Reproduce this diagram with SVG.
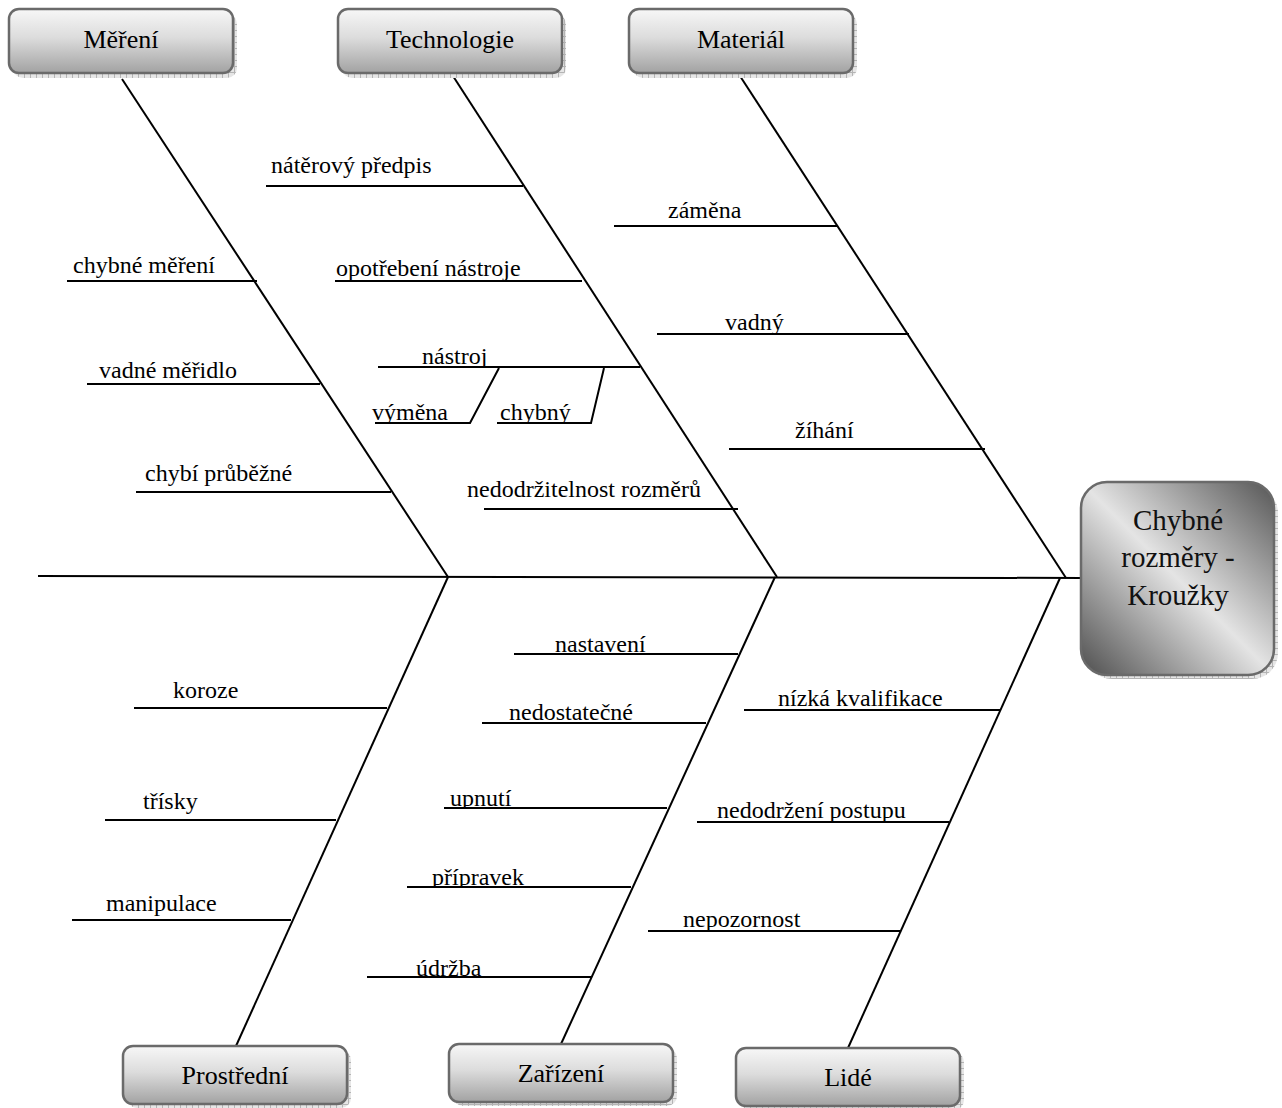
<svg xmlns="http://www.w3.org/2000/svg" width="1282" height="1108" viewBox="0 0 1282 1108">
  <style>
    .bone { stroke: #000; stroke-width: 2; fill: none; stroke-linecap: butt; }
    .lbl { font-family: "Liberation Serif", "Times New Roman", serif; font-size: 24px; fill: #000; }
    .cat { font-family: "Liberation Serif", "Times New Roman", serif; font-size: 26px; fill: #000; text-anchor: middle; }
    .head { font-family: "Liberation Serif", "Times New Roman", serif; font-size: 29px; fill: #111; text-anchor: middle; }
    .box { fill: url(#boxGrad); stroke: #6a6a6a; stroke-width: 2.5; }
    .shadow { fill: url(#hatch); }
  </style>
  <defs>
    <linearGradient id="boxGrad" x1="0" y1="0" x2="0" y2="1">
      <stop offset="0" stop-color="#f7f7f7"/>
      <stop offset="0.45" stop-color="#dcdcdc"/>
      <stop offset="1" stop-color="#a2a2a2"/>
    </linearGradient>
    <linearGradient id="headGrad" x1="0" y1="1" x2="1" y2="0">
      <stop offset="0" stop-color="#4e4e4e"/>
      <stop offset="0.5" stop-color="#e4e4e4"/>
      <stop offset="1" stop-color="#555555"/>
    </linearGradient>
    <pattern id="hatch" width="6" height="6" patternUnits="userSpaceOnUse">
      <rect width="6" height="6" fill="#e6e6e6"/>
      <path d="M0 0.5H6M0.5 0V6" stroke="#b4b4b4" stroke-width="1"/>
    </pattern>
    <!-- label clips: text is cut off where it meets its branch line -->
    <clipPath id="c281" clipPathUnits="userSpaceOnUse"><rect x="0" y="0" width="1282" height="280"/></clipPath>
    <clipPath id="c367" clipPathUnits="userSpaceOnUse"><rect x="0" y="0" width="1282" height="366"/></clipPath>
    <clipPath id="c423" clipPathUnits="userSpaceOnUse"><rect x="0" y="0" width="1282" height="422"/></clipPath>
    <clipPath id="c334" clipPathUnits="userSpaceOnUse"><rect x="0" y="0" width="1282" height="333"/></clipPath>
    <clipPath id="c654" clipPathUnits="userSpaceOnUse"><rect x="0" y="0" width="1282" height="653"/></clipPath>
    <clipPath id="c808" clipPathUnits="userSpaceOnUse"><rect x="0" y="0" width="1282" height="807"/></clipPath>
    <clipPath id="c887" clipPathUnits="userSpaceOnUse"><rect x="0" y="0" width="1282" height="886"/></clipPath>
    <clipPath id="c977" clipPathUnits="userSpaceOnUse"><rect x="0" y="0" width="1282" height="976"/></clipPath>
    <clipPath id="c710" clipPathUnits="userSpaceOnUse"><rect x="0" y="0" width="1282" height="709"/></clipPath>
    <clipPath id="c822" clipPathUnits="userSpaceOnUse"><rect x="0" y="0" width="1282" height="821"/></clipPath>
    <clipPath id="c931" clipPathUnits="userSpaceOnUse"><rect x="0" y="0" width="1282" height="930"/></clipPath>
  </defs>

  <rect width="1282" height="1108" fill="#fff"/>

  <!-- spine, main bones and cause branches -->
  <g id="connectors" class="bone">
    <line x1="38" y1="576" x2="1082" y2="578"/>
    <!-- upper bones -->
    <line x1="122" y1="79" x2="448" y2="577"/>
    <line x1="453" y1="76" x2="777" y2="577"/>
    <line x1="740" y1="76" x2="1066" y2="578"/>
    <!-- lower bones -->
    <line x1="448" y1="577" x2="236" y2="1046"/>
    <line x1="775" y1="577" x2="561" y2="1044"/>
    <line x1="1060" y1="578" x2="848" y2="1048"/>

    <!-- Měření -->
    <line x1="67" y1="281" x2="257" y2="281"/>
    <line x1="87" y1="384" x2="320" y2="384"/>
    <line x1="136" y1="492" x2="391" y2="492"/>
    <!-- Technologie -->
    <line x1="266" y1="186" x2="523" y2="186"/>
    <line x1="335" y1="281" x2="582" y2="281"/>
    <line x1="378" y1="367" x2="640" y2="367"/>
    <polyline points="375,423 470,423 499,368"/>
    <polyline points="497,423 591,423 604,368"/>
    <line x1="484" y1="509" x2="738" y2="509"/>
    <!-- Materiál -->
    <line x1="614" y1="226" x2="838" y2="226"/>
    <line x1="657" y1="334" x2="909" y2="334"/>
    <line x1="729" y1="449" x2="985" y2="449"/>
    <!-- Prostřední -->
    <line x1="134" y1="708" x2="387" y2="708"/>
    <line x1="105" y1="820" x2="336" y2="820"/>
    <line x1="72" y1="920" x2="291" y2="920"/>
    <!-- Zařízení -->
    <line x1="514" y1="654" x2="738" y2="654"/>
    <line x1="482" y1="723" x2="706" y2="723"/>
    <line x1="444" y1="808" x2="667" y2="808"/>
    <line x1="407" y1="887" x2="631" y2="887"/>
    <line x1="367" y1="977" x2="591" y2="977"/>
    <!-- Lidé -->
    <line x1="744" y1="710" x2="1000" y2="710"/>
    <line x1="697" y1="822" x2="949" y2="822"/>
    <line x1="648" y1="931" x2="900" y2="931"/>
  </g>

  <!-- cause labels -->
  <g id="causes" class="lbl">
    <text x="73" y="273">chybné měření</text>
    <text x="99" y="378">vadné měřidlo</text>
    <text x="145" y="481">chybí průběžné</text>

    <text x="271" y="173">nátěrový předpis</text>
    <text x="336" y="276" clip-path="url(#c281)">opotřebení nástroje</text>
    <text x="422" y="364" clip-path="url(#c367)">nástroj</text>
    <text x="372" y="420" clip-path="url(#c423)">výměna</text>
    <text x="500" y="420" clip-path="url(#c423)">chybný</text>
    <text x="467" y="497">nedodržitelnost rozměrů</text>

    <text x="668" y="218">záměna</text>
    <text x="725" y="330" clip-path="url(#c334)">vadný</text>
    <text x="795" y="438">žíhání</text>

    <text x="173" y="698">koroze</text>
    <text x="143" y="809">třísky</text>
    <text x="106" y="911">manipulace</text>

    <text x="555" y="652" clip-path="url(#c654)">nastavení</text>
    <text x="509" y="720">nedostatečné</text>
    <text x="450" y="806" clip-path="url(#c808)">upnutí</text>
    <text x="432" y="885" clip-path="url(#c887)">přípravek</text>
    <text x="416" y="976" clip-path="url(#c977)">údržba</text>

    <text x="778" y="706" clip-path="url(#c710)">nízká kvalifikace</text>
    <text x="717" y="818" clip-path="url(#c822)">nedodržení postupu</text>
    <text x="683" y="927" clip-path="url(#c931)">nepozornost</text>
  </g>

  <!-- category boxes -->
  <g id="cat-mereni">
    <rect class="shadow" x="13" y="14" width="224" height="64" rx="10"/>
    <rect class="box" x="9" y="9" width="224" height="64" rx="10"/>
    <text class="cat" x="121" y="48">Měření</text>
  </g>
  <g id="cat-technologie">
    <rect class="shadow" x="342" y="14" width="224" height="64" rx="10"/>
    <rect class="box" x="338" y="9" width="224" height="64" rx="10"/>
    <text class="cat" x="450" y="48">Technologie</text>
  </g>
  <g id="cat-material">
    <rect class="shadow" x="633" y="14" width="224" height="64" rx="10"/>
    <rect class="box" x="629" y="9" width="224" height="64" rx="10"/>
    <text class="cat" x="741" y="48">Materiál</text>
  </g>
  <g id="cat-prostredni">
    <rect class="shadow" x="127" y="1050" width="224" height="58" rx="10"/>
    <rect class="box" x="123" y="1046" width="224" height="58" rx="10"/>
    <text class="cat" x="235" y="1084">Prostřední</text>
  </g>
  <g id="cat-zarizeni">
    <rect class="shadow" x="453" y="1048" width="224" height="58" rx="10"/>
    <rect class="box" x="449" y="1044" width="224" height="58" rx="10"/>
    <text class="cat" x="561" y="1082">Zařízení</text>
  </g>
  <g id="cat-lide">
    <rect class="shadow" x="740" y="1052" width="224" height="58" rx="10"/>
    <rect class="box" x="736" y="1048" width="224" height="58" rx="10"/>
    <text class="cat" x="848" y="1086">Lidé</text>
  </g>

  <!-- effect box -->
  <g id="effect">
    <rect class="shadow" x="1086" y="487" width="192" height="192" rx="26"/>
    <rect x="1081" y="482" width="193" height="193" rx="26" fill="url(#headGrad)" stroke="#6a6a6a" stroke-width="2.5"/>
    <text class="head" x="1178" y="530">Chybné</text>
    <text class="head" x="1178" y="567">rozměry -</text>
    <text class="head" x="1178" y="605">Kroužky</text>
  </g>
</svg>
